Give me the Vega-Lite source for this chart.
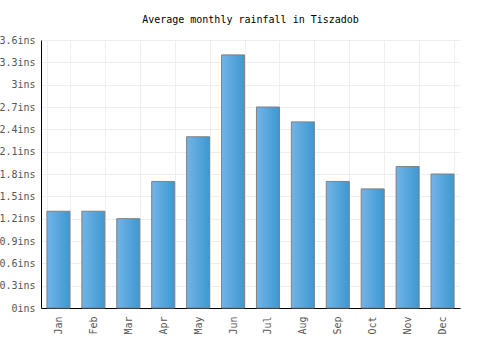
{
  "$schema": "https://vega.github.io/schema/vega-lite/v6.json",
  "width": 419,
  "height": 268,
  "autosize": {"type": "none"},
  "padding": {"left": 41, "top": 40, "right": 40, "bottom": 42},
  "title": {
    "text": "Average monthly rainfall in Tiszadob",
    "font": "DejaVu Sans Mono",
    "fontSize": 10,
    "fontWeight": "normal",
    "color": "#000000",
    "offset": 10
  },
  "config": {
    "view": {"stroke": null},
    "font": "DejaVu Sans Mono"
  },
  "data": {
    "values": [
      {"month": "Jan", "rain": 1.3},
      {"month": "Feb", "rain": 1.3},
      {"month": "Mar", "rain": 1.2},
      {"month": "Apr", "rain": 1.7},
      {"month": "May", "rain": 2.3},
      {"month": "Jun", "rain": 3.4},
      {"month": "Jul", "rain": 2.7},
      {"month": "Aug", "rain": 2.5},
      {"month": "Sep", "rain": 1.7},
      {"month": "Oct", "rain": 1.6},
      {"month": "Nov", "rain": 1.9},
      {"month": "Dec", "rain": 1.8}
    ]
  },
  "mark": {
    "type": "bar",
    "stroke": "#808080",
    "strokeWidth": 1,
    "fill": {
      "gradient": "linear",
      "x1": 0, "x2": 1, "y1": 0, "y2": 0,
      "stops": [
        {"offset": 0, "color": "#72b4e8"},
        {"offset": 1, "color": "#3d98d0"}
      ]
    }
  },
  "encoding": {
    "x": {
      "field": "month",
      "type": "nominal",
      "sort": null,
      "scale": {"paddingInner": 0.34, "paddingOuter": 0.17},
      "axis": {
        "title": null,
        "labelAngle": -90,
        "labelFont": "DejaVu Sans Mono",
        "labelFontSize": 10,
        "labelColor": "#555555",
        "labelPadding": 8,
        "ticks": false,
        "tickBand": "extent",
        "grid": true,
        "gridColor": "#eeeeee",
        "domainColor": "#000000",
        "domainWidth": 1
      }
    },
    "y": {
      "field": "rain",
      "type": "quantitative",
      "scale": {"domain": [0, 3.6], "nice": false},
      "axis": {
        "title": null,
        "values": [0, 0.3, 0.6, 0.9, 1.2, 1.5, 1.8, 2.1, 2.4, 2.7, 3, 3.3, 3.6],
        "labelExpr": "format(datum.value, '.1~f') + 'ins'",
        "labelFont": "DejaVu Sans Mono",
        "labelFontSize": 10,
        "labelColor": "#555555",
        "labelPadding": 6,
        "ticks": false,
        "grid": true,
        "gridColor": "#eeeeee",
        "domainColor": "#000000",
        "domainWidth": 1
      }
    }
  }
}
